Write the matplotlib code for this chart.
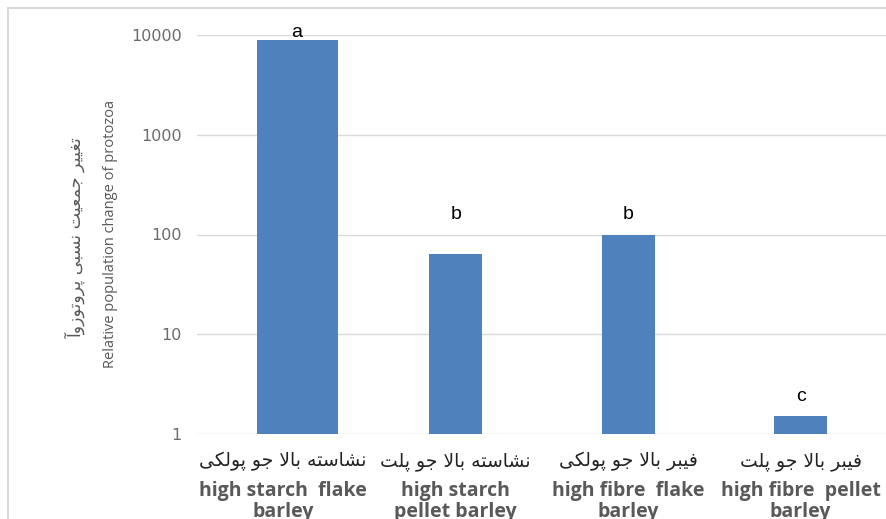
import numpy as np
import matplotlib.pyplot as plt
from matplotlib.patches import Rectangle

# chart data
categories_fa = ['نشاسته بالا جو پولکی', 'نشاسته بالا جو پلت',
                 'فیبر بالا جو پولکی', 'فیبر بالا جو پلت']
categories_en = ['high starch  flake\nbarley', 'high starch\npellet barley',
                 'high fibre  flake\nbarley', 'high fibre  pellet\nbarley']
values = [8900, 64, 99, 1.5]
letters = ['a', 'b', 'b', 'c']
ylabel_fa = 'تغییر جمعیت نسبی پروتوزوآ'
ylabel_en = 'Relative population change of protozoa'
yticks = [1, 10, 100, 1000, 10000]

# --- minimal arabic/persian shaping (matplotlib has no shaping engine) ---
FORMS = {
    '\u0627': (0xFE8D, 0xFE8E), '\u0622': (0xFE81, 0xFE82),
    '\u0628': (0xFE8F, 0xFE90, 0xFE91, 0xFE92), '\u067E': (0xFB56, 0xFB57, 0xFB58, 0xFB59),
    '\u062A': (0xFE95, 0xFE96, 0xFE97, 0xFE98), '\u062C': (0xFE9D, 0xFE9E, 0xFE9F, 0xFEA0),
    '\u0631': (0xFEAD, 0xFEAE), '\u0632': (0xFEAF, 0xFEB0),
    '\u0633': (0xFEB1, 0xFEB2, 0xFEB3, 0xFEB4), '\u0634': (0xFEB5, 0xFEB6, 0xFEB7, 0xFEB8),
    '\u0639': (0xFEC9, 0xFECA, 0xFECB, 0xFECC), '\u063A': (0xFECD, 0xFECE, 0xFECF, 0xFED0),
    '\u0641': (0xFED1, 0xFED2, 0xFED3, 0xFED4), '\u06A9': (0xFB8E, 0xFB8F, 0xFB90, 0xFB91),
    '\u0644': (0xFEDD, 0xFEDE, 0xFEDF, 0xFEE0), '\u0645': (0xFEE1, 0xFEE2, 0xFEE3, 0xFEE4),
    '\u0646': (0xFEE5, 0xFEE6, 0xFEE7, 0xFEE8), '\u0647': (0xFEE9, 0xFEEA, 0xFEEB, 0xFEEC),
    '\u0648': (0xFEED, 0xFEEE), '\u06CC': (0xFBFC, 0xFBFD, 0xFBFE, 0xFBFF),
    'LA': (0xFEFB, 0xFEFC), 'LAA': (0xFEF5, 0xFEF6),
}


def shape(text):
    # lam-alef ligatures first
    toks = []
    i = 0
    while i < len(text):
        c = text[i]
        if c == '\u0644' and i + 1 < len(text) and text[i + 1] in ('\u0627', '\u0622'):
            toks.append('LA' if text[i + 1] == '\u0627' else 'LAA')
            i += 2
        else:
            toks.append(c)
            i += 1
    out = []
    for i, t in enumerate(toks):
        if t not in FORMS:
            out.append(t)
            continue
        prev = toks[i - 1] if i > 0 else None
        nxt = toks[i + 1] if i + 1 < len(toks) else None
        join_prev = prev in FORMS and len(FORMS[prev]) == 4
        join_next = len(FORMS[t]) == 4 and nxt in FORMS
        f = FORMS[t]
        if join_prev and join_next:
            out.append(chr(f[3]))
        elif join_prev:
            out.append(chr(f[1]))
        elif join_next:
            out.append(chr(f[2]))
        else:
            out.append(chr(f[0]))
    return ''.join(out)[::-1]


bar_color = '#4f81bd'
grid_color = '#d9d9d9'
tick_color = '#595959'

fig = plt.figure(figsize=(8.87, 5.19), dpi=100)
fig.patches.append(Rectangle((8 / 887, -0.1), 1.0, 1.1 - 8 / 519, transform=fig.transFigure,
                             fill=False, edgecolor=grid_color, linewidth=1.5))

ax = fig.add_axes([197 / 887, 1 - 434 / 519, 690 / 887, 399 / 519])
x = np.arange(len(values))
widths = [0.47, 0.31, 0.31, 0.31]
offsets = [0.08, 0, 0, 0]
ax.bar(x + np.array(offsets), values, width=widths, color=bar_color, zorder=3)

ax.set_yscale('log')
ax.set_ylim(1, 10000)
ax.set_xlim(-0.5, 3.5)
ax.set_yticks(yticks)
ax.set_yticklabels([str(v) for v in yticks])
ax.yaxis.set_minor_locator(plt.NullLocator())
ax.tick_params(axis='y', length=0, pad=11, labelsize=11.5, labelcolor='#6b6b6b')
ax.tick_params(axis='x', length=0, labelbottom=False)
ax.grid(axis='y', color=grid_color, linewidth=1, zorder=0)
for s in ax.spines.values():
    s.set_visible(False)

# significance letters
letter_y = [10500, 160, 160, 2.35]
for xi, ly, lt in zip(x + np.array(offsets), letter_y, letters):
    ax.text(xi, ly, lt, ha='center', va='center', fontsize=14, fontfamily='Liberation Sans', color='black')

# category labels
for xi, fa, en in zip(x, categories_fa, categories_en):
    ax.text(xi, -0.07, shape(fa), transform=ax.get_xaxis_transform(), ha='center', va='center',
            fontsize=13.5, fontfamily='DejaVu Sans', color='#222222')
    ax.text(xi, -0.118, en, transform=ax.get_xaxis_transform(), ha='center', va='top',
            fontsize=14, fontfamily='Open Sans', fontweight='bold', color=tick_color,
            linespacing=1.05)

# y axis titles
fig.text(75 / 887, 1 - 238 / 519, shape(ylabel_fa), rotation=90, ha='center', va='center',
         fontsize=12.5, fontfamily='DejaVu Sans', color=tick_color)
fig.text(111 / 887, 1 - 234 / 519, ylabel_en, rotation=90, ha='center', va='center',
         fontsize=10.5, fontfamily='Open Sans', color=tick_color)

fig.savefig('out.png', dpi=100)
